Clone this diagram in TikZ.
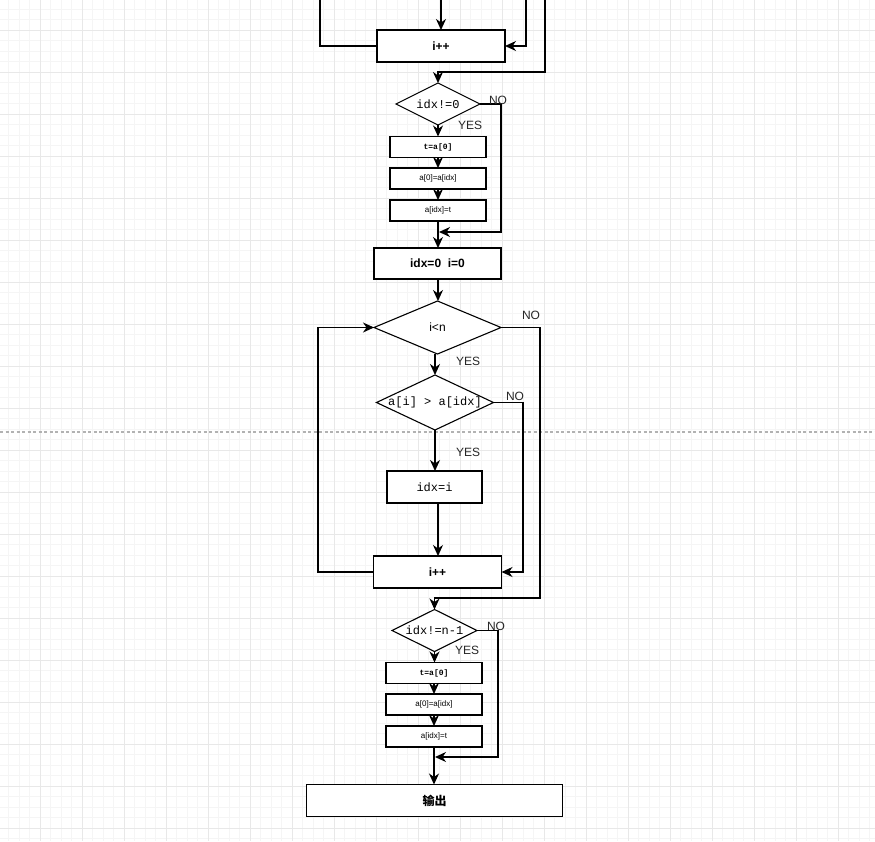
\documentclass[tikz,border=0pt]{standalone}
\usepackage{fontspec}
\setmainfont{Liberation Sans}
\setsansfont{Liberation Sans}
\setmonofont{Liberation Mono}
\newfontfamily\cjkfont{Noto Sans CJK SC}
\usetikzlibrary{arrows.meta,shapes.geometric}
\begin{document}
\begin{tikzpicture}[x=1pt,y=-1pt,
  minorgrid/.style={draw=black!4,line width=0.5pt},
  majorgrid/.style={draw=black!9,line width=0.8pt},
  pagebreak/.style={draw=black!30,line width=1.1pt,dash pattern=on 3pt off 2.5pt},
  box/.style={draw,line width=1.1pt,fill=white,inner sep=0pt,outer sep=0pt,text=black},
  sbox/.style={box,minimum width=96pt,minimum height=21pt,font=\sffamily\fontsize{8}{9}\selectfont},
  dia/.style={diamond,draw,line width=1.1pt,fill=white,inner sep=0pt,outer sep=0pt},
  bsf/.style={font=\sffamily\bfseries\fontsize{12}{14}\selectfont},
  sf/.style={font=\sffamily\fontsize{12}{14}\selectfont},
  mono/.style={font=\ttfamily\fontsize{12}{14}\selectfont,inner sep=0pt},
  lab/.style={font=\sffamily\fontsize{12}{14}\selectfont,text=black!85,inner sep=0pt},
  ln/.style={line width=1.3pt},
  arr/.style={line width=1.3pt,-{Stealth[length=11pt,width=10pt,inset=3.5pt]}}]
\useasboundingbox (0,0) rectangle (875,841);
% background grid
\fill[white] (0,0) rectangle (875,841);
\foreach \k in {0,...,84} \draw[minorgrid] ({-2+10.5*\k},0) -- ++(0,841);
\foreach \k in {0,...,80} \draw[minorgrid] (0,{-1.5+10.5*\k}) -- ++(875,0);
\foreach \k in {0,...,19} \draw[majorgrid] ({40+42*\k},0) -- ++(0,841);
\foreach \k in {0,...,19} \draw[majorgrid] (0,{30+42*\k}) -- ++(875,0);
\draw[pagebreak] (0,432) -- (875,432);

% nodes
\node[box,bsf,minimum width=128pt,minimum height=32pt] (ip1) at (441,46) {i++};
\node[dia,minimum width=84pt,minimum height=42pt] (d0) at (438,104) {};
\node[mono] (d0t) at (d0) {idx!=0};
\node[sbox] (s1) at (438,147) {\ttfamily\bfseries t=a[0]};
\node[sbox] (s2) at (438,178.5) {a[0]=a[idx]};
\node[sbox] (s3) at (438,210.5) {a[idx]=t};
\node[box,bsf,minimum width=127pt,minimum height=31pt] (init) at (437.5,263.5) {idx=0\ \ i=0};
\node[dia,minimum width=127pt,minimum height=53pt] (d1) at (437.5,327.5) {};
\node[sf,inner sep=0pt] (d1t) at (d1) {i<n};
\node[dia,minimum width=117pt,minimum height=55pt] (d2) at (435,402.5) {};
\node[mono] (d2t) at (d2) {a[i] > a[idx]};
\node[box,font=\ttfamily\fontsize{12}{14}\selectfont,minimum width=95pt,minimum height=32pt] (asg) at (434.5,487) {idx=i};
\node[box,bsf,minimum width=128pt,minimum height=32pt] (ip2) at (437.5,572) {i++};
\node[dia,minimum width=85pt,minimum height=42pt] (d3) at (434.5,630.5) {};
\node[mono] (d3t) at (d3) {idx!=n-1};
\node[sbox] (u1) at (434,673) {\ttfamily\bfseries t=a[0]};
\node[sbox] (u2) at (434,704.5) {a[0]=a[idx]};
\node[sbox] (u3) at (434,736.5) {a[idx]=t};
\node[box,minimum width=256pt,minimum height=32pt,font=\cjkfont\bfseries\fontsize{12}{14}\selectfont] (out) at (434.5,800.5) {输出};

% coordinates
\coordinate (tl) at (320,0);
\coordinate (ta) at (441,0);
\coordinate (tr) at (526,0);
\coordinate (to) at (545,0);
\coordinate (c0) at (438,72);
\coordinate (n0) at (501,232);
\coordinate (j0) at (439,232);
\coordinate (lp) at (318,327.5);
\coordinate (n1) at (540,598);
\coordinate (c1) at (434.5,598);
\coordinate (n2) at (523,572);
\coordinate (n3) at (498,757);
\coordinate (j3) at (435,757);

% connectors
\draw[ln] (ip1.west) -| (tl);
\draw[arr] (ta) -- (ip1.north);
\draw[arr] (tr) |- (ip1.east);
\draw[arr] (to) |- (c0) -- (d0.north);
\draw[arr] (d0.south) -- (s1.north);
\draw[arr] (s1.south) -- (s2.north);
\draw[arr] (s2.south) -- (s3.north);
\draw[arr] (d0.east) -| (n0) -- (j0);
\draw[arr] (s3.south) -- (s3.south |- init.north);
\draw[arr] (init.south -| s3.south) -- (s3.south |- d1.north);
\draw[arr] (d2.north |- d1.south) -- (d2.north);
\draw[arr] (d2.south) -- (d2.south |- asg.north);
\draw[arr] (asg.south -| 438,0) -- (ip2.north -| 438,0);
\draw[arr] (ip2.west) -| (lp) -- (d1.west);
\draw[arr] (d1.east) -| (n1) -- (c1) -- (d3.north);
\draw[arr] (d2.east) -| (n2) -- (ip2.east);
\draw[arr] (d3.south) -- (d3.south |- u1.north);
\draw[arr] (u1.south) -- (u2.north);
\draw[arr] (u2.south) -- (u3.north);
\draw[arr] (d3.east) -| (n3) -- (j3);
\draw[arr] (u3.south) -- (u3.south |- out.north);

% labels
\node[lab] (l0n) at (498,100) {NO};
\node[lab] (l0y) at (470,125) {YES};
\node[lab] (l1n) at (531,315) {NO};
\node[lab] (l1y) at (468,361) {YES};
\node[lab] (l2n) at (515,396) {NO};
\node[lab] (l2y) at (468,452) {YES};
\node[lab] (l3n) at (496,626) {NO};
\node[lab] (l3y) at (467,650) {YES};
\end{tikzpicture}
\end{document}
